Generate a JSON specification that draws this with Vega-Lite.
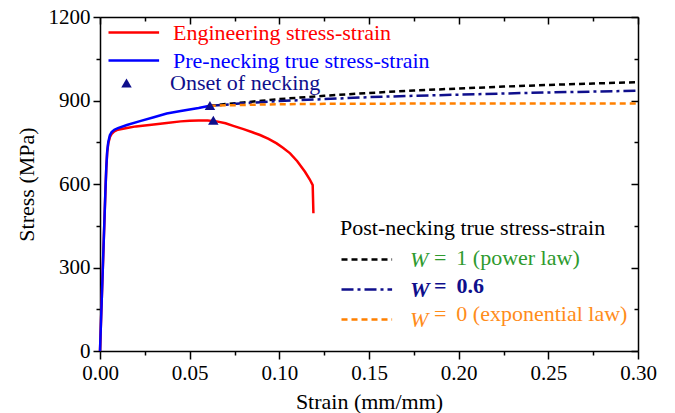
{
  "$schema": "https://vega.github.io/schema/vega-lite/v6.json",
  "width": 538,
  "height": 334,
  "autosize": {"type": "none"},
  "padding": {"left": 100, "top": 17, "right": 37, "bottom": 62},
  "background": "white",
  "config": {
    "view": {"stroke": null},
    "font": "Liberation Serif",
    "axis": {
      "grid": false,
      "domainColor": "black",
      "domainWidth": 1.5,
      "tickColor": "black",
      "tickWidth": 1.5,
      "labelFont": "Liberation Serif",
      "labelFontSize": 21,
      "labelColor": "black",
      "titleFont": "Liberation Serif",
      "titleFontSize": 22,
      "titleFontWeight": "normal",
      "titleColor": "black",
      "labelFlush": false,
      "labelOverlap": false
    },
    "legend": {
      "labelFont": "Liberation Serif",
      "labelFontSize": 22,
      "titleFont": "Liberation Serif",
      "titleFontSize": 22,
      "titleFontWeight": "normal",
      "titleColor": "black",
      "labelLimit": 0,
      "titleLimit": 0,
      "padding": 0,
      "orient": "none"
    }
  },
  "datasets": {
    "curves": [
      {"curve": "Engineering stress-strain", "strain": 0, "stress": 0},
      {"curve": "Engineering stress-strain", "strain": 0.001, "stress": 190},
      {"curve": "Engineering stress-strain", "strain": 0.002, "stress": 380},
      {"curve": "Engineering stress-strain", "strain": 0.003, "stress": 570},
      {"curve": "Engineering stress-strain", "strain": 0.0035, "stress": 655},
      {"curve": "Engineering stress-strain", "strain": 0.004, "stress": 712},
      {"curve": "Engineering stress-strain", "strain": 0.0046, "stress": 745},
      {"curve": "Engineering stress-strain", "strain": 0.0055, "stress": 768},
      {"curve": "Engineering stress-strain", "strain": 0.0065, "stress": 780},
      {"curve": "Engineering stress-strain", "strain": 0.008, "stress": 789},
      {"curve": "Engineering stress-strain", "strain": 0.01, "stress": 795},
      {"curve": "Engineering stress-strain", "strain": 0.015, "stress": 801},
      {"curve": "Engineering stress-strain", "strain": 0.02, "stress": 807},
      {"curve": "Engineering stress-strain", "strain": 0.03, "stress": 814},
      {"curve": "Engineering stress-strain", "strain": 0.0372, "stress": 819},
      {"curve": "Engineering stress-strain", "strain": 0.045, "stress": 825},
      {"curve": "Engineering stress-strain", "strain": 0.05, "stress": 827},
      {"curve": "Engineering stress-strain", "strain": 0.055, "stress": 828},
      {"curve": "Engineering stress-strain", "strain": 0.06, "stress": 828},
      {"curve": "Engineering stress-strain", "strain": 0.065, "stress": 825},
      {"curve": "Engineering stress-strain", "strain": 0.07, "stress": 818},
      {"curve": "Engineering stress-strain", "strain": 0.0743, "stress": 809},
      {"curve": "Engineering stress-strain", "strain": 0.08, "stress": 797},
      {"curve": "Engineering stress-strain", "strain": 0.085, "stress": 786},
      {"curve": "Engineering stress-strain", "strain": 0.0892, "stress": 776},
      {"curve": "Engineering stress-strain", "strain": 0.094, "stress": 762},
      {"curve": "Engineering stress-strain", "strain": 0.0985, "stress": 746},
      {"curve": "Engineering stress-strain", "strain": 0.102, "stress": 730},
      {"curve": "Engineering stress-strain", "strain": 0.106, "stress": 710},
      {"curve": "Engineering stress-strain", "strain": 0.11, "stress": 682},
      {"curve": "Engineering stress-strain", "strain": 0.1143, "stress": 644},
      {"curve": "Engineering stress-strain", "strain": 0.117, "stress": 616},
      {"curve": "Engineering stress-strain", "strain": 0.1186, "stress": 596},
      {"curve": "Engineering stress-strain", "strain": 0.119, "stress": 495},
      {"curve": "Pre-necking true stress-strain", "strain": 0, "stress": 0},
      {"curve": "Pre-necking true stress-strain", "strain": 0.001, "stress": 190},
      {"curve": "Pre-necking true stress-strain", "strain": 0.002, "stress": 380},
      {"curve": "Pre-necking true stress-strain", "strain": 0.003, "stress": 572},
      {"curve": "Pre-necking true stress-strain", "strain": 0.0035, "stress": 658},
      {"curve": "Pre-necking true stress-strain", "strain": 0.004, "stress": 716},
      {"curve": "Pre-necking true stress-strain", "strain": 0.0046, "stress": 750},
      {"curve": "Pre-necking true stress-strain", "strain": 0.0055, "stress": 775},
      {"curve": "Pre-necking true stress-strain", "strain": 0.0065, "stress": 787},
      {"curve": "Pre-necking true stress-strain", "strain": 0.008, "stress": 795},
      {"curve": "Pre-necking true stress-strain", "strain": 0.01, "stress": 801},
      {"curve": "Pre-necking true stress-strain", "strain": 0.015, "stress": 812},
      {"curve": "Pre-necking true stress-strain", "strain": 0.0223, "stress": 826},
      {"curve": "Pre-necking true stress-strain", "strain": 0.03, "stress": 840},
      {"curve": "Pre-necking true stress-strain", "strain": 0.0372, "stress": 853},
      {"curve": "Pre-necking true stress-strain", "strain": 0.045, "stress": 862},
      {"curve": "Pre-necking true stress-strain", "strain": 0.0483, "stress": 866},
      {"curve": "Pre-necking true stress-strain", "strain": 0.055, "stress": 873},
      {"curve": "Pre-necking true stress-strain", "strain": 0.0612, "stress": 881}
    ],
    "post": [
      {"w": "W1", "strain": 0.0612, "stress": 881},
      {"w": "W1", "strain": 0.07, "stress": 887},
      {"w": "W1", "strain": 0.08, "stress": 893},
      {"w": "W1", "strain": 0.09, "stress": 899},
      {"w": "W1", "strain": 0.1, "stress": 905},
      {"w": "W1", "strain": 0.125, "stress": 917},
      {"w": "W1", "strain": 0.15, "stress": 927},
      {"w": "W1", "strain": 0.175, "stress": 936},
      {"w": "W1", "strain": 0.2, "stress": 943},
      {"w": "W1", "strain": 0.225, "stress": 950},
      {"w": "W1", "strain": 0.25, "stress": 956},
      {"w": "W1", "strain": 0.275, "stress": 961},
      {"w": "W1", "strain": 0.3, "stress": 966},
      {"w": "W06", "strain": 0.0612, "stress": 881},
      {"w": "W06", "strain": 0.07, "stress": 885},
      {"w": "W06", "strain": 0.08, "stress": 890},
      {"w": "W06", "strain": 0.09, "stress": 894},
      {"w": "W06", "strain": 0.1, "stress": 898},
      {"w": "W06", "strain": 0.125, "stress": 905},
      {"w": "W06", "strain": 0.15, "stress": 912},
      {"w": "W06", "strain": 0.175, "stress": 917},
      {"w": "W06", "strain": 0.2, "stress": 921},
      {"w": "W06", "strain": 0.225, "stress": 925},
      {"w": "W06", "strain": 0.25, "stress": 929},
      {"w": "W06", "strain": 0.275, "stress": 932},
      {"w": "W06", "strain": 0.3, "stress": 935},
      {"w": "W0", "strain": 0.0612, "stress": 881},
      {"w": "W0", "strain": 0.07, "stress": 882.5},
      {"w": "W0", "strain": 0.08, "stress": 884},
      {"w": "W0", "strain": 0.09, "stress": 885.5},
      {"w": "W0", "strain": 0.1, "stress": 886.5},
      {"w": "W0", "strain": 0.125, "stress": 888},
      {"w": "W0", "strain": 0.15, "stress": 888.5},
      {"w": "W0", "strain": 0.175, "stress": 889},
      {"w": "W0", "strain": 0.2, "stress": 889},
      {"w": "W0", "strain": 0.25, "stress": 889},
      {"w": "W0", "strain": 0.3, "stress": 889}
    ],
    "markers": [
      {"marker": "Onset of necking", "strain": 0.0613, "stress": 882},
      {"marker": "Onset of necking", "strain": 0.0632, "stress": 829}
    ]
  },
  "layer": [
    {
      "data": {"name": "post"},
      "mark": {"type": "line", "strokeWidth": 2.5},
      "encoding": {
        "x": {"field": "strain", "type": "quantitative", "scale": {"domain": [0, 0.3], "nice": false, "zero": false}, "axis": null},
        "y": {"field": "stress", "type": "quantitative", "scale": {"domain": [0, 1200], "nice": false}, "axis": null},
        "color": {
          "field": "w", "type": "nominal",
          "scale": {"domain": ["W1", "W06", "W0"], "range": ["#000000", "#0f0f8c", "#ff8000"]},
          "legend": {
            "title": "Post-necking true stress-strain",
            "legendX": 240, "legendY": 201,
            "symbolType": "M-1,0H3.6", "symbolSize": 484, "symbolStrokeWidth": 2.5,
            "labelOffset": 45, "rowPadding": 6, "titlePadding": 7,
            "labelExpr": "'W'",
            "labelFontStyle": "italic",
            "labelFontWeight": {"expr": "datum.value == 'W06' ? 'bold' : 'normal'"},
            "labelColor": {"expr": "datum.value == 'W1' ? '#2e9a2e' : datum.value == 'W06' ? '#0f0f8c' : '#ff8c1a'"}
          }
        },
        "strokeDash": {
          "field": "w", "type": "nominal",
          "scale": {"domain": ["W1", "W06", "W0"], "range": [[6, 4], [12, 4, 3, 4], [6, 4]]}
        }
      }
    },
    {
      "data": {"name": "post"},
      "mark": {"type": "point", "opacity": 0, "filled": true, "size": 1},
      "encoding": {
        "x": {"field": "strain", "type": "quantitative", "axis": null},
        "y": {"field": "stress", "type": "quantitative", "axis": null},
        "shape": {
          "field": "w", "type": "nominal",
          "scale": {"domain": ["W1", "W06", "W0"], "range": ["circle", "circle", "circle"]},
          "legend": {
            "title": "\u00a0",
            "titleOpacity": 0,
            "legendX": 312, "legendY": 201,
            "symbolSize": 1, "symbolOpacity": 0,
            "labelOffset": 0, "rowPadding": 6, "titlePadding": 7,
            "labelExpr": "datum.value == 'W1' ? '=\u00a0\u20091 (power law)' : datum.value == 'W06' ? '=\u00a0\u20090.6' : '=\u00a0\u20090 (exponential law)'",
            "labelFontWeight": {"expr": "datum.value == 'W06' ? 'bold' : 'normal'"},
            "labelColor": {"expr": "datum.value == 'W1' ? '#2e9a2e' : datum.value == 'W06' ? '#0f0f8c' : '#ff8c1a'"}
          }
        }
      }
    },
    {
      "data": {"name": "curves"},
      "mark": {"type": "line", "strokeWidth": 2.5},
      "encoding": {
        "x": {
          "field": "strain", "type": "quantitative",
          "axis": {
            "orient": "bottom",
            "title": "Strain (mm/mm)",
            "values": [0, 0.025, 0.05, 0.075, 0.1, 0.125, 0.15, 0.175, 0.2, 0.225, 0.25, 0.275, 0.3],
            "labelExpr": "round(datum.value*1000) % 50 == 0 ? format(datum.value, '.2f') : ''",
            "tickSize": {"condition": {"test": "round(datum.value*1000) % 50 == 0", "value": 8}, "value": 4},
            "labelPadding": 3,
            "titlePadding": 8
          }
        },
        "y": {
          "field": "stress", "type": "quantitative",
          "axis": {
            "orient": "left",
            "title": "Stress (MPa)",
            "values": [0, 150, 300, 450, 600, 750, 900, 1050, 1200],
            "labelExpr": "datum.value % 300 == 0 ? format(datum.value, 'd') : ''",
            "tickSize": {"condition": {"test": "datum.value % 300 == 0", "value": 7}, "value": 4},
            "labelPadding": 3,
            "titlePadding": 10
          }
        },
        "color": {
          "field": "curve", "type": "nominal",
          "scale": {"domain": ["Engineering stress-strain", "Pre-necking true stress-strain"], "range": ["#ff0000", "#0000ff"]},
          "legend": {
            "title": null,
            "legendX": 7, "legendY": 3,
            "symbolType": "M-1,0H3.6", "symbolSize": 484, "symbolStrokeWidth": 2.5,
            "labelOffset": 41, "rowPadding": 4,
            "labelColor": {"expr": "datum.value == 'Engineering stress-strain' ? '#ff0000' : '#0000ff'"}
          }
        }
      }
    },
    {
      "data": {"name": "markers"},
      "mark": {"type": "point", "filled": true, "size": 110, "opacity": 1, "color": "#0f0f8c"},
      "encoding": {
        "x": {
          "field": "strain", "type": "quantitative",
          "axis": {
            "orient": "top", "title": null, "labels": false,
            "values": [0, 0.025, 0.05, 0.075, 0.1, 0.125, 0.15, 0.175, 0.2, 0.225, 0.25, 0.275, 0.3],
            "tickSize": {"condition": {"test": "round(datum.value*1000) % 50 == 0", "value": -7}, "value": -4}
          }
        },
        "y": {
          "field": "stress", "type": "quantitative",
          "axis": {
            "orient": "right", "title": null, "labels": false,
            "values": [0, 150, 300, 450, 600, 750, 900, 1050, 1200],
            "tickSize": {"condition": {"test": "datum.value % 300 == 0", "value": -7}, "value": -4}
          }
        },
        "shape": {
          "field": "marker", "type": "nominal",
          "scale": {"domain": ["Onset of necking"], "range": ["triangle-up"]},
          "legend": {
            "title": null,
            "legendX": 15.5, "legendY": 55,
            "symbolSize": 110, "symbolFillColor": "#0f0f8c", "symbolStrokeWidth": 0,
            "labelOffset": 32.5,
            "labelColor": "#0f0f8c"
          }
        }
      }
    }
  ],
  "resolve": {
    "scale": {"color": "independent", "shape": "independent", "strokeDash": "independent"},
    "axis": {"x": "independent", "y": "independent"}
  }
}
